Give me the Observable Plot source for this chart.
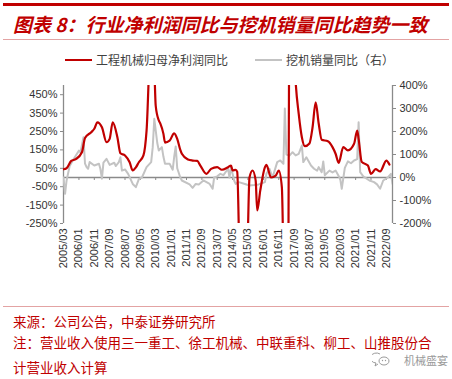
<!DOCTYPE html>
<html><head><meta charset="utf-8">
<script src="https://cdn.jsdelivr.net/npm/d3@7"></script>
<script src="https://cdn.jsdelivr.net/npm/@observablehq/plot@0.6"></script>
<style>
body{margin:0;width:452px;height:379px;background:#fff;position:relative;overflow:hidden;font-family:"Noto Sans CJK SC",sans-serif;}
.abs{position:absolute;white-space:nowrap;}
#topbar{left:3px;top:3px;width:446px;height:3px;background:#c00000;}
#title{left:13px;top:10px;font-size:19px;font-weight:700;font-style:italic;color:#c00000;line-height:28px;}
#rule1{left:3px;top:39px;width:446px;height:1px;background:#e3a3a3;}
.sw{height:2px;top:59px;}
.lg{top:51px;font-size:12px;line-height:18px;color:#404040;}
#chart{left:0;top:75px;}
#rule2{left:3px;top:306px;width:446px;height:1px;background:#e3a3a3;}
.ft{left:13px;font-size:13.5px;line-height:16px;color:#c00000;}
#wm{left:404px;top:354px;font-size:11px;line-height:12px;color:#9a9a9a;}
#wmi{left:372px;top:352px;}
</style></head>
<body>
<div class="abs" id="topbar"></div>
<div class="abs" id="title">图表 8：行业净利润同比与挖机销量同比趋势一致</div>
<div class="abs" id="rule1"></div>
<div class="abs sw" style="left:65px;width:27px;background:#c00000"></div>
<div class="abs lg" style="left:96px">工程机械归母净利润同比</div>
<div class="abs sw" style="left:255px;width:27px;background:#c3c3c3"></div>
<div class="abs lg" style="left:286px">挖机销量同比（右）</div>
<div class="abs" id="chart"></div>
<div class="abs" id="rule2"></div>
<div class="abs ft" style="top:313px">来源：公司公告，中泰证券研究所</div>
<div class="abs ft" style="top:334px">注：营业收入使用三一重工、徐工机械、中联重科、柳工、山推股份合</div>
<div class="abs ft" style="top:359px">计营业收入计算</div>
<svg class="abs" id="wmi" width="20" height="16" viewBox="0 0 20 16">
  <path d="M8 2 A6 5 0 1 0 4 11 L3 14 L6 12" fill="none" stroke="#9a9a9a" stroke-width="1"/>
  <ellipse cx="12" cy="9" rx="5" ry="4" fill="none" stroke="#9a9a9a" stroke-width="1"/>
  <circle cx="10.5" cy="8.5" r="0.7" fill="#9a9a9a"/><circle cx="13.5" cy="8.5" r="0.7" fill="#9a9a9a"/>
</svg>
<div class="abs" id="wm">机械盛宴</div>
<script>
const profitDates = ["2005-03","2005-05","2005-08","2005-11","2006-03","2006-05","2006-09","2006-11","2007-01","2007-04","2007-07","2007-09","2007-11","2008-02","2008-04","2008-07","2008-10","2008-12","2009-02","2009-04","2009-07","2009-09","2009-12","2010-02","2010-03","2010-05","2010-06","2010-08","2010-09","2010-12","2011-03","2011-05","2011-07","2011-08","2011-12","2012-03","2012-06","2012-08","2012-12","2013-03","2013-07","2013-10","2014-02","2014-04","2014-05","2014-07","2014-08","2014-10","2014-12","2015-02","2015-04","2015-06","2015-08","2015-09","2015-11","2016-02","2016-03","2016-06","2016-09","2016-11","2017-01","2017-03","2017-05","2017-06","2017-08","2017-10","2017-12","2018-02","2018-04","2018-07","2018-09","2018-11","2019-01","2019-03","2019-07","2019-10","2019-12","2020-02","2020-05","2020-08","2020-12","2021-02","2021-03","2021-05","2021-09","2021-11","2022-02","2022-05","2022-09","2022-11"];
const profitValues = [45,50,90,100,137,215,246,265,300,273,192,210,300,219,132,120,83,38,55,83,120,255,800,600,390,310,293,237,190,200,240,210,150,129,98,92,90,65,20,47,56,42,56,65,38,42,30,-600,-700,-600,0,38,-16,-179,-70,56,69,0,10,38,-53,-800,-800,900,900,520,346,219,170,185,273,409,292,205,197,165,129,80,165,147,183,255,210,85,65,20,45,33,92,70];

const salesDates = ["2005-03","2005-04","2005-05","2005-07","2005-09","2005-11","2006-01","2006-02","2006-04","2006-05","2006-06","2006-07","2006-08","2006-11","2007-02","2007-03","2007-04","2007-05","2007-07","2007-09","2007-12","2008-01","2008-03","2008-04","2008-05","2008-07","2008-09","2008-12","2009-02","2009-04","2009-06","2009-08","2009-09","2009-12","2010-01","2010-02","2010-04","2010-05","2010-07","2010-08","2010-09","2010-12","2011-02","2011-03","2011-04","2011-05","2011-07","2011-08","2012-01","2012-03","2012-05","2012-07","2012-10","2013-02","2013-04","2013-05","2013-07","2013-09","2013-11","2014-02","2014-03","2014-04","2014-06","2014-07","2014-09","2015-01","2015-04","2015-07","2015-10","2015-12","2016-02","2016-03","2016-05","2016-07","2016-09","2016-10","2016-12","2017-02","2017-03","2017-04","2017-06","2017-08","2017-10","2017-12","2018-02","2018-03","2018-05","2018-08","2018-10","2018-12","2019-01","2019-03","2019-04","2019-05","2019-08","2019-10","2019-12","2020-03","2020-04","2020-06","2020-08","2020-10","2020-12","2021-02","2021-03","2021-04","2021-06","2021-10","2022-01","2022-03","2022-05","2022-07","2022-10","2022-12","2023-01"];
const salesValues = [0,-71,-13,50,74,96,117,110,175,60,45,38,67,52,60,38,-5,65,81,55,64,50,67,88,30,35,16,-28,-42,-7,0,30,45,67,132,255,150,117,132,90,60,60,34,88,135,40,0,-13,-30,-45,-28,-30,-13,-28,-49,0,5,16,10,38,0,45,-13,-28,-20,-28,-35,-33,-30,-25,-20,16,38,0,45,67,74,60,300,100,95,110,96,103,139,67,88,52,38,30,45,23,70,10,30,22,30,-5,-49,42,70,62,74,80,240,23,5,-13,-20,-30,-49,-13,0,16,-28];

const xTickLabels = ["2005/03","2006/01","2006/11","2007/09","2008/07","2009/05","2010/03","2011/01","2011/11","2012/09","2013/07","2014/05","2015/03","2016/01","2016/11","2017/09","2018/07","2019/05","2020/03","2021/01","2021/11","2022/09"];
const leftTicks = [-250,-150,-50,50,150,250,350,450];
const rightTicks = [-200,-100,0,100,200,300,400];
const leftDomain = [-250,500];
const rightDomain = [-200,400];
const xStart = "2005-03", xEnd = "2023-01";

const parse = d3.utcParse("%Y-%m");
const parseTick = d3.utcParse("%Y/%m");
const k = (leftDomain[1]-leftDomain[0])/(rightDomain[1]-rightDomain[0]);
const profit = profitDates.map((d,i)=>({date:parse(d), v:profitValues[i]}));
const sales = salesDates.map((d,i)=>({date:parse(d), v:salesValues[i]*k}));
const tickDates = xTickLabels.map(parseTick);
const xDomain = [parse(xStart), parse(xEnd)];
const axisColor = "#8a8a8a";

const chart = Plot.plot({
  width:452, height:200, marginTop:10, marginBottom:52, marginLeft:63, marginRight:60,
  style:{fontFamily:"'Liberation Sans', Arial, sans-serif", fontSize:"11px", color:"#333", background:"transparent"},
  x:{type:"utc", domain:xDomain},
  y:{domain:leftDomain},
  marks:[
    Plot.ruleY([0],{stroke:axisColor, strokeWidth:1.3}),
    Plot.ruleX(tickDates,{x:d=>d, y1:0, y2:0, insetBottom:-3, insetTop:0, stroke:axisColor}),
    Plot.ruleX([xDomain[0], xDomain[1]],{stroke:axisColor, strokeWidth:1.3}),
    Plot.line(sales,{x:"date", y:"v", stroke:"#c3c3c3", strokeWidth:2, clip:true}),
    Plot.line(profit,{x:"date", y:"v", stroke:"#c00000", strokeWidth:2.2, curve:"monotone-x", clip:true}),
    Plot.axisY(leftTicks,{anchor:"left", tickSize:3, tickPadding:3, stroke:axisColor, tickFormat:d=>d+"%", label:null}),
    Plot.axisY(rightTicks.map(t=>t*k),{anchor:"right", tickSize:3, tickPadding:4, stroke:axisColor, tickFormat:d=>Math.round(d/k)+"%", label:null}),
    Plot.axisX(tickDates,{anchor:"bottom", tickSize:0, tickPadding:5, tickRotate:-90, tickFormat:d3.utcFormat("%Y/%m"), label:null})
  ]
});
document.getElementById("chart").appendChild(chart);
</script>
</body></html>
